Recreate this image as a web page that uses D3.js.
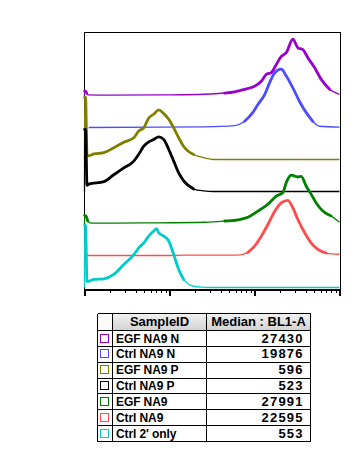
<!DOCTYPE html>
<html><head><meta charset="utf-8">
<script src="https://cdn.jsdelivr.net/npm/d3@7"></script>
<style>body{margin:0;background:#fff}svg{display:block}</style>
</head><body>
<svg id="chart" width="361" height="463"></svg>
<script>
// ---- data ----
const sampleIds = ["EGF NA9 N","Ctrl NA9 N","EGF NA9 P","Ctrl NA9 P","EGF NA9","Ctrl NA9","Ctrl 2' only"];
const medians = ["27430","19876","596","523","27991","22595","553"];
const colors = ["#9900cc","#4c4cff","#808000","#000000","#008000","#ff4c4c","#00cccc"];
const tableHeaders = ["SampleID","Median : BL1-A"];
const majorTicks = [100,1000,10000,100000];

// histograms: [BL1-A value, % of mode]
const egfNA9N = [[100,0],[100.3,7],[103,7],[106,4],[110,1],[200,0.5],[800,1],[2591,2],[4453,4],[5836,6],[7648,10],[10028,15],[12022,23],[13764,34],[15754,37],[18042,50],[20650,63],[23640,69],[28260,91],[32360,77],[37050,74],[42410,61],[50850,45],[60950,26],[76300,10],[100000,2]];
const ctrlNA9N = [[112,0],[800,0.5],[2591,1],[5836,3],[7648,10],[9171,21],[10965,37],[13146,53],[15047,72],[17230,88],[20650,94],[23640,83],[28260,64],[33880,42],[40620,24],[48570,10],[58210,2],[100000,0.5]];
const egfNA9P = [[100,0],[100.3,100],[103,100],[107,8],[112,6],[129,9],[169,11],[221,19],[290,28],[380,35],[435,46],[498,51],[570,67],[652,73],[747,80],[855,74],[979,65],[1121,51],[1283,35],[1469,21],[1925,8],[2522,3],[3307,0],[100000,0]];
const ctrlNA9P = [[100,0],[100.3,100],[103,100],[107,10],[112,12],[169,16],[221,27],[290,38],[380,49],[435,60],[498,73],[570,80],[652,84],[747,88],[855,84],[979,68],[1121,49],[1283,30],[1469,17],[1925,4],[2522,1],[3307,0],[100000,0]];
const egfNA9 = [[100,0],[100.3,13],[104,12],[109,4],[120,0.5],[500,1],[2591,2],[4453,4],[6381,6],[8366,10],[10965,20],[14374,31],[18042,44],[21565,50],[23640,66],[27060,78],[32360,75],[35470,76],[40620,60],[46490,47],[53240,33],[63640,20],[79900,12],[100000,2]];
const ctrlNA9 = [[106,0],[1000,0],[1500,0.5],[6381,0.5],[8366,5],[10028,15],[12022,31],[14374,50],[17230,71],[20650,85],[24690,89],[28260,77],[32360,58],[38790,37],[46490,20],[55590,10],[69790,4],[100000,2]];
const ctrl2Only = [[100,0],[100.3,100],[103,100],[107,10],[112,10],[129,13],[169,14],[221,21],[290,37],[380,53],[435,64],[498,72],[570,83],[652,91],[707,95],[747,88],[855,83],[979,75],[1121,53],[1283,29],[1469,13],[1925,2],[2522,0.5],[2888,0],[100000,0]];
const histograms = [egfNA9N, ctrlNA9N, egfNA9P, ctrlNA9P, egfNA9, ctrlNA9, ctrl2Only];

// ---- layout ----
const svg = d3.select("#chart");
const plot = {left:84.5, right:339.5, top:32.5, axisY:289.5, base0:287.5, step:32, layerH:62};
const x = d3.scaleLog().domain([100,100000]).range([plot.left, plot.right]);
const yH = d3.scaleLinear().domain([0,100]).range([0, plot.layerH]);

// frame
svg.append("path").attr("d", `M${plot.left},${plot.axisY}V${plot.top}H${plot.right+1}V${plot.axisY}`)
  .attr("fill","none").attr("stroke","#000").attr("stroke-width",1).attr("shape-rendering","crispEdges");

// histograms (top layer first)
const n = histograms.length;
histograms.forEach((h, i) => {
  const k = n - 1 - i;
  const base = plot.base0 - plot.step * k;
  const line = d3.line().x(d => x(d[0])).y(d => base - yH(d[1])).curve(d3.curveMonotoneX);
  const g = svg.append("g");
  g.append("path").attr("d", line(h)).attr("fill","none").attr("stroke", colors[i])
    .attr("stroke-width",1.3).attr("stroke-linejoin","round");
  // thicker stroke where counts are substantial
  const thr = 4;
  let run = [];
  const runs = [];
  h.forEach(d => {
    if (d[1] >= thr) run.push(d);
    else { if (run.length > 1) runs.push(run); run = []; }
  });
  if (run.length > 1) runs.push(run);
  runs.forEach(r => g.append("path").attr("d", line(r)).attr("fill","none").attr("stroke", colors[i])
    .attr("stroke-width",2.8).attr("stroke-linejoin","round").attr("stroke-linecap","round"));
});

// axis
const minorTicks = [];
for (let d = 100; d < 100000; d *= 10) for (let m = 1; m <= 10; m++) minorTicks.push(d*m);
const axis = d3.axisBottom(x).tickValues(Array.from(new Set(minorTicks))).tickFormat("").tickSize(3).tickSizeOuter(0);
const ag = svg.append("g").attr("transform", `translate(0,${plot.axisY})`).call(axis);
ag.select(".domain").attr("stroke","#000").attr("stroke-width",1.3).attr("shape-rendering","crispEdges");
ag.selectAll(".tick line").attr("stroke","#000").attr("shape-rendering","crispEdges")
  .filter(d => majorTicks.includes(d)).attr("y2",6).attr("stroke-width",2);

// ---- table ----
const tb = {left:97.5, c1:112.5, c2:206.5, right:310.5, top:313.5, headH:17, rowH:15.86};
const defs = svg.append("defs");
const grad = defs.append("linearGradient").attr("id","hg").attr("x1",0).attr("y1",0).attr("x2",0).attr("y2",1);
grad.append("stop").attr("offset","0%").attr("stop-color","#f2f2f2");
grad.append("stop").attr("offset","100%").attr("stop-color","#d2d2d2");
const t = svg.append("g").attr("font-family","'Liberation Sans', Arial, sans-serif").attr("font-weight","bold");
t.append("rect").attr("x",tb.left).attr("y",tb.top).attr("width",tb.c1-tb.left).attr("height",tb.headH).attr("fill","#fafafa");
t.append("rect").attr("x",tb.c1).attr("y",tb.top).attr("width",tb.right-tb.c1).attr("height",tb.headH).attr("fill","url(#hg)");
t.append("text").attr("x",(tb.c1+tb.c2)/2).attr("y",tb.top+12.8).attr("text-anchor","middle").attr("font-size","13px").text(tableHeaders[0]);
t.append("text").attr("x",(tb.c2+tb.right)/2).attr("y",tb.top+12.8).attr("text-anchor","middle").attr("font-size","13px").text(tableHeaders[1]);
const bottom = tb.top + tb.headH + tb.rowH * sampleIds.length;
sampleIds.forEach((s, i) => {
  const ry = tb.top + tb.headH + tb.rowH * i;
  t.append("rect").attr("x",100.5).attr("y",Math.round(ry+3)+0.5).attr("width",8).attr("height",8)
    .attr("fill","#fff").attr("stroke",colors[i]).attr("stroke-width",1.3).attr("shape-rendering","crispEdges");
  t.append("text").attr("x",116).attr("y",ry+12).attr("font-size","12px").attr("letter-spacing","-0.1px").text(s);
  t.append("text").attr("x",303.7).attr("y",ry+12).attr("text-anchor","end").attr("font-size","13px")
    .attr("letter-spacing","1.2px").text(medians[i]);
});
const grid = t.append("g").attr("stroke","#000").attr("stroke-width",1).attr("shape-rendering","crispEdges");
for (let i = 0; i <= sampleIds.length + 1; i++) {
  const yy = i === 0 ? tb.top : Math.round(tb.top + tb.headH + tb.rowH*(i-1) - 0.5) + 0.5;
  grid.append("line").attr("x1",tb.left).attr("x2",tb.right).attr("y1",yy).attr("y2",yy);
}
[tb.left, tb.c1, tb.c2, tb.right].forEach(xx =>
  grid.append("line").attr("x1",xx).attr("x2",xx).attr("y1",tb.top).attr("y2",Math.round(bottom-0.5)+0.5));
</script>
</body></html>
